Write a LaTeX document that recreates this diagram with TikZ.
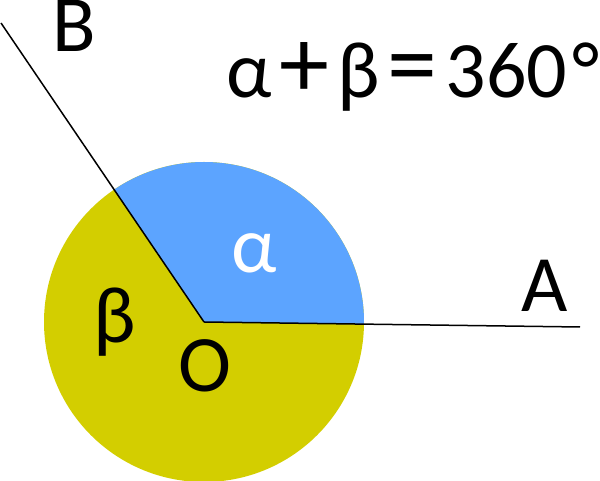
\documentclass[tikz,border=0pt]{standalone}
\usepackage{fontspec}
\setmainfont{Carlito}
\definecolor{angblue}{HTML}{5CA4FF}
\definecolor{angyellow}{HTML}{D3CE00}
\tikzstyle{ray}=[line width=1.5pt, black]
\tikzstyle{lbl}=[anchor=base, inner sep=0, font=\fontsize{80}{96}\selectfont]
\newcommand{\opgap}{\hspace{8pt}}
\newcommand{\bigop}[1]{{\fontsize{100}{120}\selectfont #1}}

\begin{document}
\begin{tikzpicture}[x=1pt, y=1pt]

\useasboundingbox (0, 0) rectangle (600, 481);

\coordinate (O) at (204, 159);
\coordinate (A) at (580, 154);
\coordinate (B) at (1, 458);

\fill [angyellow] (O) circle (160);
\fill [angblue] (O) -- ++(-0.76:160) arc (-0.76:124.2:160) -- cycle;

\draw [ray] (B) -- (O);
\draw [ray] (O) -- (A);

\node [lbl] (lA) at (545, 169) {A};
\node [lbl] (lB) at (74, 429) {B};
\node [lbl] (lO) at (205, 89) {O};
\node [lbl] (lbeta) at (115, 138) {β};
\node [lbl, text=white] (lalpha) at (254, 208) {α};
\node [lbl, anchor=base west] (eq) at (226, 383)
  {α\opgap\bigop{+}\opgap β\opgap\bigop{=}\opgap 360\hspace{5pt}°};

\end{tikzpicture}
\end{document}
